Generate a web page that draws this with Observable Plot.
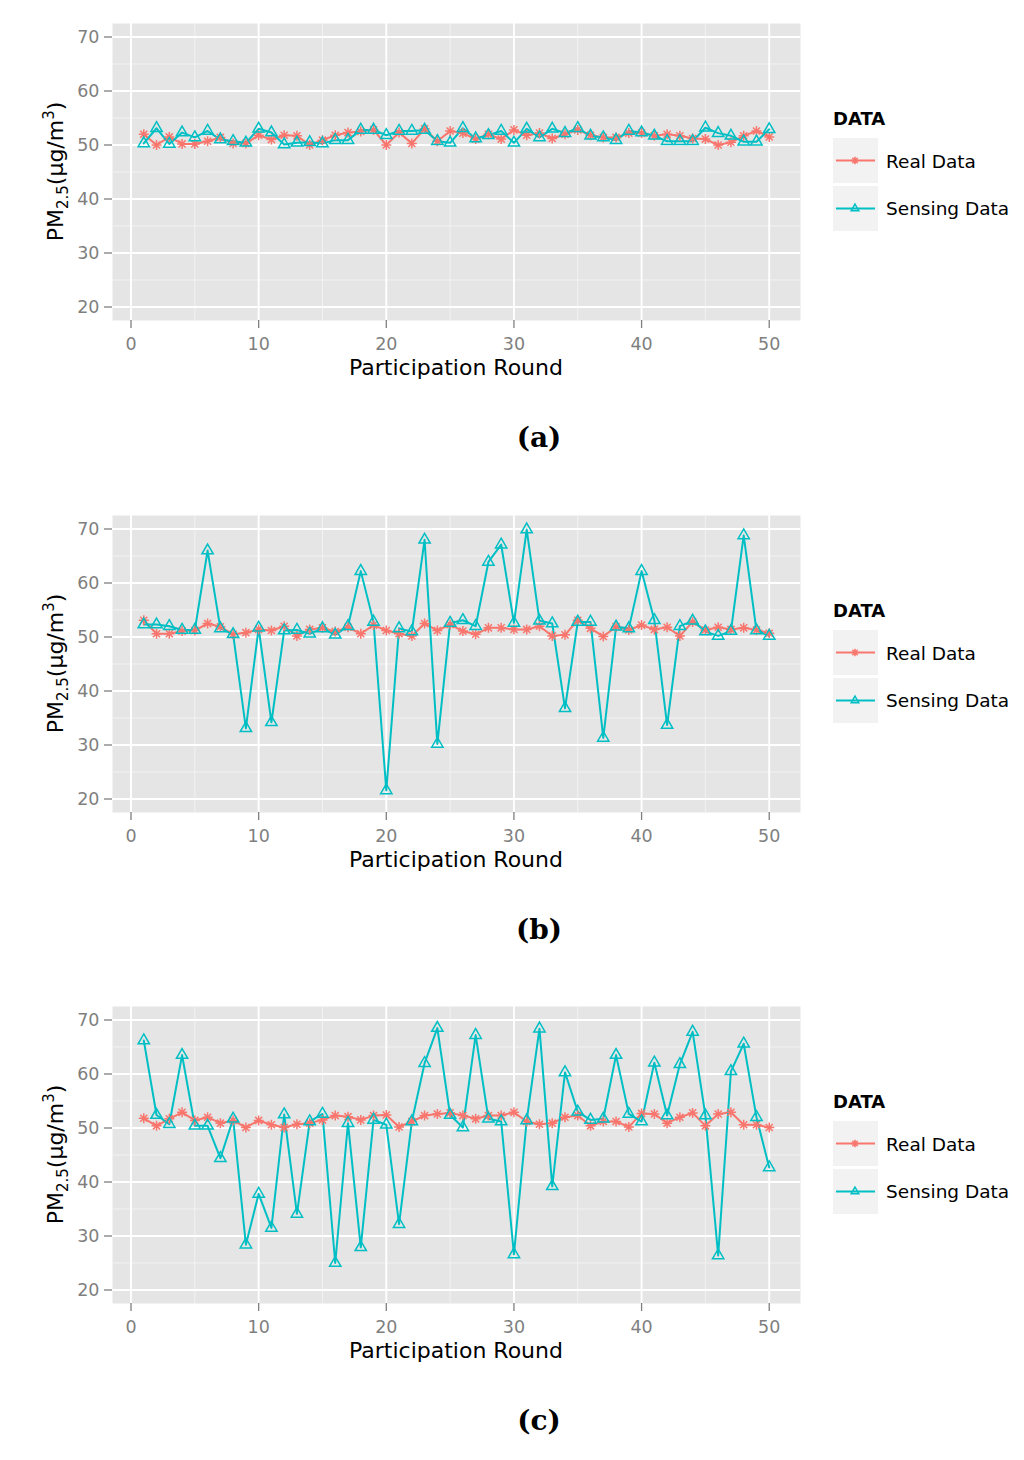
<!DOCTYPE html>
<html>
<head>
<meta charset="utf-8">
<script src="https://cdn.jsdelivr.net/npm/d3@7"></script>
<script src="https://cdn.jsdelivr.net/npm/@observablehq/plot@0.6"></script>
<style>
  body { margin: 0; background: #fff; }
  #root { position: relative; width: 1024px; height: 1460px; overflow: hidden; }
  .panel { position: absolute; left: 0; width: 1024px; height: 492px; }
  .panel > svg { position: absolute; left: 0; top: 0; }
  .overlay { pointer-events: none; }
</style>
</head>
<body>
<div id="root"></div>
<script>
// ---------- data ----------
const rounds = [1,2,3,4,5,6,7,8,9,10,11,12,13,14,15,16,17,18,19,20,21,22,23,24,25,
                26,27,28,29,30,31,32,33,34,35,36,37,38,39,40,41,42,43,44,45,46,47,48,49,50];

const seriesNames = ["Real Data", "Sensing Data"];
const seriesColors = ["#F8766D", "#00BFC4"];

const realA = [52.0,50.0,51.5,50.2,50.2,50.7,51.4,50.3,50.3,51.8,51.0,51.8,51.7,50.0,50.9,51.8,52.3,52.5,52.8,50.0,
               52.3,50.3,53.0,50.7,52.6,52.2,51.1,52.0,51.1,52.8,51.8,52.2,51.2,52.0,52.8,51.8,51.4,51.4,52.2,52.2,
               51.7,52.0,51.7,51.2,51.1,50.0,50.5,51.7,52.6,51.5];
const sensA = [50.3,53.1,50.2,52.3,51.4,52.6,51.0,50.7,50.4,53.0,52.3,50.1,50.4,50.5,50.3,50.9,50.9,52.8,52.8,51.8,
               52.6,52.6,52.8,50.7,50.4,53.1,51.2,51.8,52.6,50.4,53.0,51.4,53.0,52.2,53.1,51.7,51.4,50.9,52.6,52.3,
               51.7,50.7,50.7,50.7,53.2,52.2,51.7,50.6,50.6,52.9];

const realB = [53.1,50.6,50.6,51.1,51.2,52.5,51.9,50.5,50.8,51.4,51.2,52.0,50.2,51.4,51.7,51.0,51.8,50.6,52.2,51.2,
               50.6,50.2,52.5,51.2,52.3,51.1,50.5,51.7,51.7,51.4,51.4,52.0,50.2,50.4,53.1,51.6,50.1,51.9,51.3,52.2,
               51.4,51.8,50.2,52.8,51.3,51.8,51.4,51.7,51.3,50.7];
const sensB = [52.3,52.3,52.0,51.3,51.3,66.0,51.6,50.5,33.1,51.7,34.2,51.2,51.3,50.6,51.6,50.4,52.0,62.2,52.8,21.6,
               51.6,51.0,68.0,30.2,52.6,53.1,52.0,63.9,67.1,52.6,69.9,53.0,52.5,36.8,52.8,52.8,31.3,51.9,51.6,62.2,
               53.1,33.7,52.0,53.0,51.0,50.2,51.1,68.8,51.2,50.2];

const realC = [51.8,50.4,51.7,52.9,51.4,52.0,50.9,51.4,50.1,51.4,50.6,50.1,50.7,50.9,51.5,52.3,52.1,51.5,52.3,52.4,
               50.2,51.2,52.3,52.6,52.8,52.3,51.7,52.3,52.3,52.9,51.2,50.7,50.9,52.0,52.3,50.4,51.2,51.2,50.2,52.7,
               52.6,50.9,52.0,52.8,50.4,52.6,52.9,50.6,50.6,50.1];
const sensC = [66.2,52.4,50.7,63.5,50.4,50.4,44.4,51.7,28.4,37.8,31.5,52.5,34.1,51.2,52.6,25.0,50.9,27.9,51.5,50.6,
               32.2,51.2,62.0,68.5,52.4,50.1,67.2,51.7,51.2,26.6,51.4,68.4,39.2,60.3,53.0,51.5,51.7,63.5,52.6,51.2,
               62.1,52.3,61.8,67.8,52.3,26.4,60.5,65.6,52.0,42.7];

const xTicks = [0, 10, 20, 30, 40, 50];
const xMinor = [5, 15, 25, 35, 45];
const yTicks = [20, 30, 40, 50, 60, 70];
const yMinor = [25, 35, 45, 55, 65];

const panelCaptions = ["(a)", "(b)", "(c)"];
const xTitle = "Participation Round";
const legendTitle = "DATA";

// ---------- helpers ----------
const asterisk8 = {
  draw(ctx, size) {
    const r = Math.sqrt(size / Math.PI);
    const d = r * Math.SQRT1_2;
    ctx.moveTo(0, -r); ctx.lineTo(0, r);
    ctx.moveTo(-r, 0); ctx.lineTo(r, 0);
    ctx.moveTo(-d, -d); ctx.lineTo(d, d);
    ctx.moveTo(-d, d); ctx.lineTo(d, -d);
  }
};

function makePlot(real, sens) {
  const rows = [];
  rounds.forEach((r, i) => rows.push({round: r, series: seriesNames[0], value: real[i]}));
  rounds.forEach((r, i) => rows.push({round: r, series: seriesNames[1], value: sens[i]}));
  const realRows = rows.filter(d => d.series === seriesNames[0]);
  const sensRows = rows.filter(d => d.series === seriesNames[1]);
  return Plot.plot({
    width: 810,
    height: 390,
    marginLeft: 112,
    marginRight: 10,
    marginTop: 23,
    marginBottom: 70,
    style: {fontFamily: "DejaVu Sans", fontSize: "17.5px", color: "#7f7f7f", background: "transparent", overflow: "visible"},
    x: {domain: [-1.45, 52.45], label: null},
    y: {domain: [17.5, 72.5], label: null},
    color: {domain: seriesNames, range: seriesColors},
    marks: [
      Plot.frame({fill: "#e5e5e5", stroke: "none"}),
      Plot.gridX(xMinor, {stroke: "#f2f2f2", strokeOpacity: 1, strokeWidth: 1}),
      Plot.gridY(yMinor, {stroke: "#f2f2f2", strokeOpacity: 1, strokeWidth: 1}),
      Plot.gridX(xTicks, {stroke: "#ffffff", strokeOpacity: 1, strokeWidth: 1.9}),
      Plot.gridY(yTicks, {stroke: "#ffffff", strokeOpacity: 1, strokeWidth: 1.9}),
      Plot.axisX(xTicks, {tickSize: 8, tickPadding: 9, label: null, fontSize: 17.5, strokeWidth: 1.3}),
      Plot.axisY(yTicks, {tickSize: 8, tickPadding: 5, label: null, fontSize: 17.5, strokeWidth: 1.3}),
      Plot.line(rows, {x: "round", y: "value", stroke: "series", z: "series", strokeWidth: 2}),
      Plot.dot(realRows, {x: "round", y: "value", symbol: asterisk8, r: 5, fill: "none", stroke: seriesColors[0], strokeWidth: 1.5}),
      Plot.dot(sensRows, {x: "round", y: "value", symbol: "triangle", r: 4.2, fill: "none", stroke: seriesColors[1], strokeWidth: 1.5})
    ]
  });
}

const NS = "http://www.w3.org/2000/svg";
function el(tag, attrs, parent, text) {
  const e = document.createElementNS(NS, tag);
  for (const k in attrs) e.setAttribute(k, attrs[k]);
  if (text != null) e.textContent = text;
  if (parent) parent.appendChild(e);
  return e;
}

function makeOverlay(caption) {
  const svg = el("svg", {width: 1024, height: 492, class: "overlay"});
  // x axis title
  el("text", {x: 456, y: 375, "text-anchor": "middle", "font-family": "DejaVu Sans", "font-size": 22, fill: "#000"}, svg, xTitle);
  // y axis title PM2.5(μg/m3)
  const yt = el("text", {transform: "translate(63,171.5) rotate(-90)", "text-anchor": "middle", "font-family": "DejaVu Sans", "font-size": 22, fill: "#000"}, svg);
  el("tspan", {}, yt, "PM");
  el("tspan", {dy: 5, "font-size": 15}, yt, "2.5");
  el("tspan", {dy: -5}, yt, "(μg/m");
  el("tspan", {dy: -9, "font-size": 15}, yt, "3");
  el("tspan", {dy: 9}, yt, ")");
  // caption
  el("text", {x: 539, y: 447, "text-anchor": "middle", "font-family": "DejaVu Serif", "font-weight": "bold", "font-size": 28, fill: "#000"}, svg, caption);
  // legend
  el("text", {x: 833, y: 125, "font-family": "DejaVu Sans", "font-weight": "bold", "font-size": 18, fill: "#000"}, svg, legendTitle);
  const keyTops = [138, 186];
  seriesNames.forEach((name, i) => {
    const top = keyTops[i];
    el("rect", {x: 833, y: top, width: 45, height: 45, fill: "#f2f2f2"}, svg);
    const cy = top + 22.5;
    el("line", {x1: 836, x2: 875, y1: cy, y2: cy, stroke: seriesColors[i], "stroke-width": 2}, svg);
    if (i === 0) {
      const r = 3.8, d = r * Math.SQRT1_2;
      el("path", {d: `M855,${cy - r}V${cy + r}M${855 - r},${cy}H${855 + r}M${855 - d},${cy - d}L${855 + d},${cy + d}M${855 - d},${cy + d}L${855 + d},${cy - d}`,
                  stroke: seriesColors[i], "stroke-width": 1.5, fill: "none"}, svg);
    } else {
      const s = 4.4, t = s / 2, u = s * Math.sqrt(3) / 2;
      el("path", {d: `M855,${cy - s}L${855 + u},${cy + t}L${855 - u},${cy + t}Z`,
                  stroke: seriesColors[i], "stroke-width": 1.5, fill: "none"}, svg);
    }
    el("text", {x: 886, y: i === 0 ? 167.7 : 215, "font-family": "DejaVu Sans", "font-size": 18.5, fill: "#000"}, svg, name);
  });
  return svg;
}

// ---------- build ----------
const root = document.getElementById("root");
const panelData = [[realA, sensA], [realB, sensB], [realC, sensC]];
const panelTops = [0, 492, 983];
panelData.forEach(([real, sens], i) => {
  const div = document.createElement("div");
  div.className = "panel";
  div.style.top = panelTops[i] + "px";
  div.appendChild(makePlot(real, sens));
  div.appendChild(makeOverlay(panelCaptions[i]));
  root.appendChild(div);
});
</script>
</body>
</html>
